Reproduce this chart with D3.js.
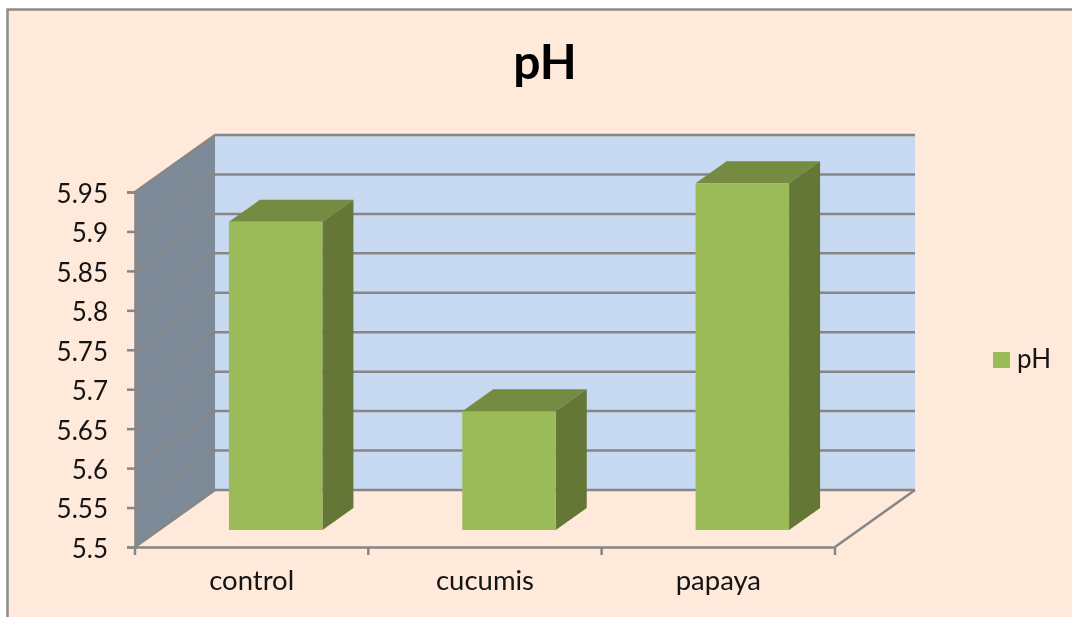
<!DOCTYPE html>
<html>
<head>
<meta charset="utf-8">
<script src="https://cdn.jsdelivr.net/npm/d3@7"></script>
<style>
  html, body { margin: 0; padding: 0; background: #fff; overflow: hidden; }
  svg { display: block; filter: blur(0.4px); }
  text { font-family: Lato, "Open Sans", sans-serif; fill: #141414; }
</style>
</head>
<body>
<svg id="chart" width="1072" height="617"></svg>
<script>
const categories = ["control", "cucumis", "papaya"];
const phValues = [5.9, 5.654, 5.95];
const yTicks = [5.5, 5.55, 5.6, 5.65, 5.7, 5.75, 5.8, 5.85, 5.9, 5.95];
const tickLabels = ["5.5", "5.55", "5.6", "5.65", "5.7", "5.75", "5.8", "5.85", "5.9", "5.95"];
const titleText = "pH";
const seriesName = "pH";

const svg = d3.select("#chart");

// frame of the chart area, only its top and left edges are inside the picture
svg.append("rect")
  .attr("x", 7.5).attr("y", 9.5)
  .attr("width", 1100).attr("height", 640)
  .attr("fill", "#fee9da")
  .attr("stroke", "#8c8c8c")
  .attr("stroke-width", 2.5);

svg.append("text")
  .attr("x", 545).attr("y", 79)
  .attr("text-anchor", "middle")
  .style("font-size", "48px").style("font-weight", 700).style("fill", "#000")
  .text(titleText);

// the front face of the box, the back wall is the same thing shifted by depth
const depth = { dx: 80, dy: -57 };
const x = d3.scaleBand().domain(categories).range([135, 835]);
const y = d3.scaleLinear().domain([5.5, 5.95]).range([547, 192]);

// bars sit halfway into the box, so they get their own height scale
const barBase = { dx: 24, dy: -17 };
const barDepth = { dx: 31, dy: -22 };
const barWidth = 93.5;
const yBar = d3.scaleLinear().domain([5.5, 5.95]).range([547 + barBase.dy, 183.3]);

const poly = (pts) => pts.map((p) => p.join(",")).join(" ");
const x0 = x.range()[0], x1 = x.range()[1];
const yLo = y(5.5), yHi = y(5.95);

// back wall and side wall
svg.append("polygon")
  .attr("points", poly([[x0 + depth.dx, yHi + depth.dy], [x1 + depth.dx, yHi + depth.dy], [x1 + depth.dx, yLo + depth.dy], [x0 + depth.dx, yLo + depth.dy]]))
  .attr("fill", "#c6d9f1");
svg.append("polygon")
  .attr("points", poly([[x0, yHi], [x0 + depth.dx, yHi + depth.dy], [x0 + depth.dx, yLo + depth.dy], [x0, yLo]]))
  .attr("fill", "#7d8b99");

// gridlines run along the side wall then across the back
const grid = svg.append("g");
grid.selectAll("polyline")
  .data(yTicks)
  .join("polyline")
  .attr("points", (d) => poly([[x0, y(d)], [x0 + depth.dx, y(d) + depth.dy], [x1 + depth.dx, y(d) + depth.dy]]))
  .attr("fill", "none")
  .attr("stroke", "#868686")
  .attr("stroke-width", 2.5);

// floor edge on the right
svg.append("line")
  .attr("x1", x1).attr("y1", yLo)
  .attr("x2", x1 + depth.dx).attr("y2", yLo + depth.dy)
  .attr("stroke", "#868686").attr("stroke-width", 2.5);

// axes
const axisLeft = d3.axisLeft(y)
  .tickValues(yTicks)
  .tickFormat((d, i) => tickLabels[i])
  .tickSize(8)
  .tickPadding(19);
const gy = svg.append("g").attr("transform", `translate(${x0},0)`).call(axisLeft);
gy.selectAll(".domain, .tick line").attr("stroke", "#868686").attr("stroke-width", 2.5);
gy.selectAll("text").attr("dy", "0.4em").style("font-size", "26px").style("font-family", "Lato, sans-serif");

const axisBottom = d3.axisBottom(x).tickSize(0).tickPadding(23);
const gx = svg.append("g").attr("transform", `translate(0,${yLo})`).call(axisBottom);
gx.selectAll(".domain").attr("stroke", "#868686").attr("stroke-width", 2.5);
gx.selectAll("text").style("font-size", "27.5px").style("font-family", "Lato, sans-serif");
gx.selectAll(".sep")
  .data([x0, x(categories[1]), x(categories[2]), x1])
  .join("line")
  .attr("class", "sep")
  .attr("x1", (d) => d).attr("x2", (d) => d)
  .attr("y1", 0).attr("y2", 8)
  .attr("stroke", "#868686").attr("stroke-width", 2.5);

// bars
const bars = svg.append("g").selectAll("g")
  .data(categories.map((c, i) => ({ c, v: phValues[i] })))
  .join("g");
const left = (d) => x(d.c) + x.bandwidth() / 2 + barBase.dx - barWidth / 2;
const right = (d) => left(d) + barWidth;
const base = yBar(5.5);

bars.append("polygon")
  .attr("points", (d) => poly([[left(d), yBar(d.v)], [right(d), yBar(d.v)], [right(d) + barDepth.dx, yBar(d.v) + barDepth.dy], [left(d) + barDepth.dx, yBar(d.v) + barDepth.dy]]))
  .attr("fill", "#748b41");
bars.append("polygon")
  .attr("points", (d) => poly([[right(d), yBar(d.v)], [right(d) + barDepth.dx, yBar(d.v) + barDepth.dy], [right(d) + barDepth.dx, base + barDepth.dy], [right(d), base]]))
  .attr("fill", "#647736");
bars.append("rect")
  .attr("x", left)
  .attr("y", (d) => yBar(d.v))
  .attr("width", barWidth)
  .attr("height", (d) => base - yBar(d.v))
  .attr("fill", "#9bbb59");

// legend
const legendColor = d3.scaleOrdinal().domain([seriesName]).range(["#9bbb59"]);
svg.append("rect")
  .attr("x", 993).attr("y", 352)
  .attr("width", 17).attr("height", 16)
  .attr("fill", legendColor(seriesName));
svg.append("text")
  .attr("x", 1017).attr("y", 368)
  .style("font-size", "26px")
  .text(seriesName);
</script>
</body>
</html>
